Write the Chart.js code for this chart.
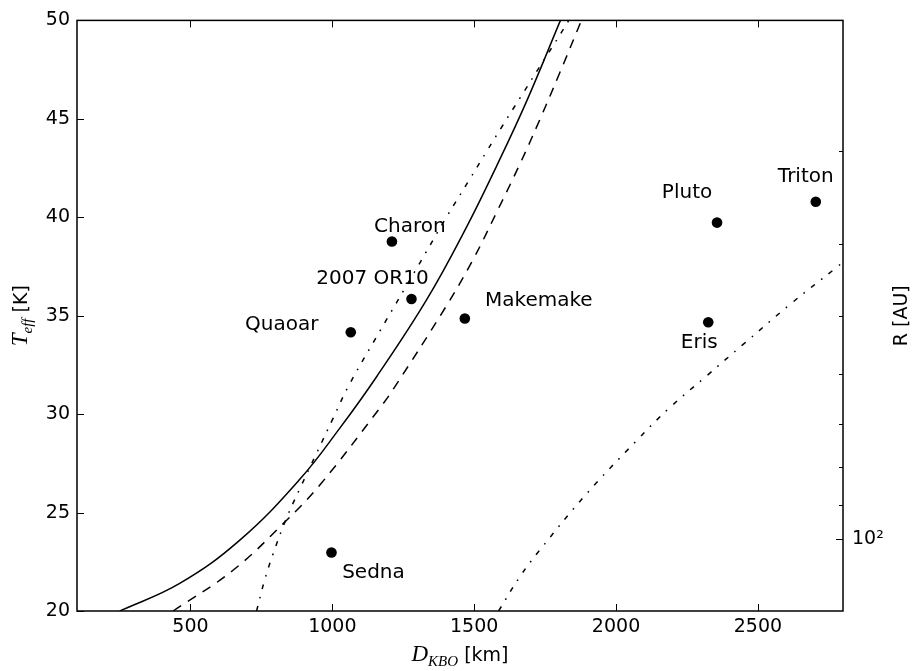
<!DOCTYPE html>
<html>
<head>
<meta charset="utf-8">
<script src="https://cdn.jsdelivr.net/npm/chart.js@4.4.1/dist/chart.umd.min.js"></script>
<style>
html, body { margin: 0; padding: 0; background: #fff; }
</style>
</head>
<body>
<canvas id="TEFF" width="913" height="671"></canvas>
<script>
// KBO objects
var names = ['Charon', '2007 OR10', 'Quaoar', 'Makemake', 'Sedna', 'Pluto', 'Triton', 'Eris'];
var diam = [1210, 1279, 1065, 1467, 997, 2356, 2704, 2325];
var teff = [38.77, 35.85, 34.16, 34.86, 22.97, 39.73, 40.79, 34.67];

// model curves
var solidD = [251, 462, 674, 886, 1027, 1156, 1332, 1473, 1579, 1685, 1804];
var solidT = [20, 21.4, 23.6, 26.7, 29.3, 31.9, 35.8, 39.5, 42.6, 45.9, 50];

var dashedD = [439, 650, 838, 956, 1167, 1214, 1402, 1496, 1579, 1661, 1731, 1802, 1878];
var dashedT = [20, 22.07, 24.6, 26.4, 30.3, 31.25, 35.5, 37.85, 40.25, 42.7, 44.95, 47.35, 50];

var dashDotD = [733, 760, 791, 838, 885, 944, 1003, 1056, 1167, 1297, 1402, 1485, 1544, 1602, 1661, 1731, 1773, 1836];
var dashDotT = [20, 21.5, 22.9, 24.7, 26.2, 28.0, 29.8, 31.4, 34.2, 37.4, 40.0, 41.95, 43.35, 44.7, 46.05, 47.65, 48.6, 50.05];

var farD = [1586, 1661, 1731, 1896, 2072, 2190, 2319, 2448, 2613, 2777, 2800];
var farT = [20, 21.74, 23.09, 25.95, 28.65, 30.34, 31.94, 33.54, 35.57, 37.45, 37.72];

// ticks
var xTicks = [500, 1000, 1500, 2000, 2500];
var yTicks = [20, 25, 30, 35, 40, 45, 50];
var rTicks = [30, 40, 50, 60, 70, 80, 90, 100];
var rMajor = 100;

// label offsets from each point, px
var labelDx = [18, -39, -69, 74, 42, -30, -10, -9];
var labelDy = [-15, -20, -7, -18, 20, -30, -25, 21];

function pairs(xs, ys) {
  return xs.map(function (v, i) { return { x: v, y: ys[i] }; });
}

function curve(xs, ys, dash) {
  return {
    data: pairs(xs, ys),
    showLine: true,
    borderColor: '#000',
    borderWidth: 1.5,
    borderDash: dash,
    pointRadius: 0,
    tension: 0.4,
    order: 1
  };
}

// draws text pieces (normal + subscript) centred on 0
function drawPieces(ctx, pieces) {
  var total = 0;
  pieces.forEach(function (p) { ctx.font = p.font; p.w = ctx.measureText(p.text).width; total += p.w; });
  var x = -total / 2;
  pieces.forEach(function (p) {
    ctx.font = p.font;
    ctx.fillText(p.text, x, p.dy);
    x += p.w;
  });
}

var extras = {
  id: 'extras',
  afterDraw: function (chart) {
    var ctx = chart.ctx, a = chart.chartArea;
    var sx = chart.scales.x, sy = chart.scales.y, sr = chart.scales.r;
    ctx.save();

    // inward ticks
    ctx.strokeStyle = '#000';
    ctx.lineWidth = 1;
    ctx.beginPath();
    xTicks.forEach(function (v) {
      var p = Math.round(sx.getPixelForValue(v)) + 0.5;
      ctx.moveTo(p, a.bottom); ctx.lineTo(p, a.bottom - 7);
      ctx.moveTo(p, a.top); ctx.lineTo(p, a.top + 7);
    });
    yTicks.forEach(function (v) {
      var p = Math.round(sy.getPixelForValue(v)) + 0.5;
      ctx.moveTo(a.left, p); ctx.lineTo(a.left + 7, p);
    });
    rTicks.forEach(function (v) {
      var p = Math.round(sr.getPixelForValue(v)) + 0.5;
      ctx.moveTo(a.right, p); ctx.lineTo(a.right - (v === rMajor ? 7 : 4), p);
    });
    ctx.stroke();

    // frame
    ctx.lineWidth = 1.5;
    ctx.strokeRect(a.left, a.top, a.right - a.left, a.bottom - a.top);

    // point labels
    ctx.fillStyle = '#000';
    ctx.font = '20px "DejaVu Sans"';
    ctx.textAlign = 'center';
    ctx.textBaseline = 'middle';
    names.forEach(function (n, i) {
      ctx.fillText(n, sx.getPixelForValue(diam[i]) + labelDx[i], sy.getPixelForValue(teff[i]) + labelDy[i]);
    });

    // axis titles
    ctx.textAlign = 'left';
    ctx.textBaseline = 'alphabetic';
    var cx = (a.left + a.right) / 2, cy = (a.top + a.bottom) / 2;

    ctx.save();
    ctx.translate(cx, 661);
    drawPieces(ctx, [
      { text: 'D', font: 'italic 23px "Liberation Serif"', dy: 0 },
      { text: 'KBO', font: 'italic 15px "Liberation Serif"', dy: 5 },
      { text: ' [km]', font: '19px "DejaVu Sans"', dy: 0 }
    ]);
    ctx.restore();

    ctx.save();
    ctx.translate(27, cy);
    ctx.rotate(-Math.PI / 2);
    drawPieces(ctx, [
      { text: 'T', font: 'italic 23px "Liberation Serif"', dy: 0 },
      { text: 'eff', font: 'italic 15px "Liberation Serif"', dy: 5 },
      { text: ' [K]', font: '19px "DejaVu Sans"', dy: 0 }
    ]);
    ctx.restore();

    ctx.save();
    ctx.translate(907, cy);
    ctx.rotate(-Math.PI / 2);
    drawPieces(ctx, [{ text: 'R [AU]', font: '19px "DejaVu Sans"', dy: 0 }]);
    ctx.restore();

    ctx.restore();
  }
};

var tickFont = { family: 'DejaVu Sans', size: 19 };

var teffChart = new Chart(document.getElementById('TEFF').getContext('2d'), {
  type: 'scatter',
  data: {
    datasets: [
      {
        data: pairs(diam, teff),
        pointRadius: 5.3,
        pointHoverRadius: 5.3,
        backgroundColor: '#000',
        borderWidth: 0,
        order: 0
      },
      curve(solidD, solidT, []),
      curve(dashedD, dashedT, [9.5, 8]),
      curve(dashDotD, dashDotT, [5, 8, 1.6, 8]),
      curve(farD, farT, [5, 8, 1.6, 8])
    ]
  },
  options: {
    responsive: false,
    animation: false,
    events: [],
    layout: { padding: { top: 18, left: 0, right: 0, bottom: 0 } },
    plugins: {
      legend: { display: false },
      tooltip: { enabled: false }
    },
    scales: {
      x: {
        type: 'linear',
        min: 100,
        max: 2800,
        grid: { display: false, drawTicks: false },
        border: { display: false },
        ticks: {
          font: tickFont, color: '#000', padding: 5, maxRotation: 0,
          callback: function (v) { return String(v); }
        },
        afterBuildTicks: function (s) { s.ticks = xTicks.map(function (v) { return { value: v }; }); },
        afterFit: function (s) { s.height = 60; }
      },
      y: {
        type: 'linear',
        position: 'left',
        min: 20,
        max: 50,
        grid: { display: false, drawTicks: false },
        border: { display: false },
        ticks: { font: tickFont, color: '#000', padding: 7 },
        afterBuildTicks: function (s) { s.ticks = yTicks.map(function (v) { return { value: v }; }); },
        afterFit: function (s) { s.width = 77; }
      },
      r: {
        type: 'logarithmic',
        position: 'right',
        min: 20,
        max: 125,
        reverse: true,
        grid: { display: false, drawTicks: false },
        border: { display: false },
        ticks: {
          font: tickFont,
          color: '#000',
          padding: 9,
          autoSkip: false,
          callback: function (v) { return v === rMajor ? '10²' : ''; }
        },
        afterBuildTicks: function (s) { s.ticks = rTicks.map(function (v) { return { value: v }; }); },
        afterFit: function (s) { s.width = 70; }
      }
    }
  },
  plugins: [extras]
});
</script>
</body>
</html>
